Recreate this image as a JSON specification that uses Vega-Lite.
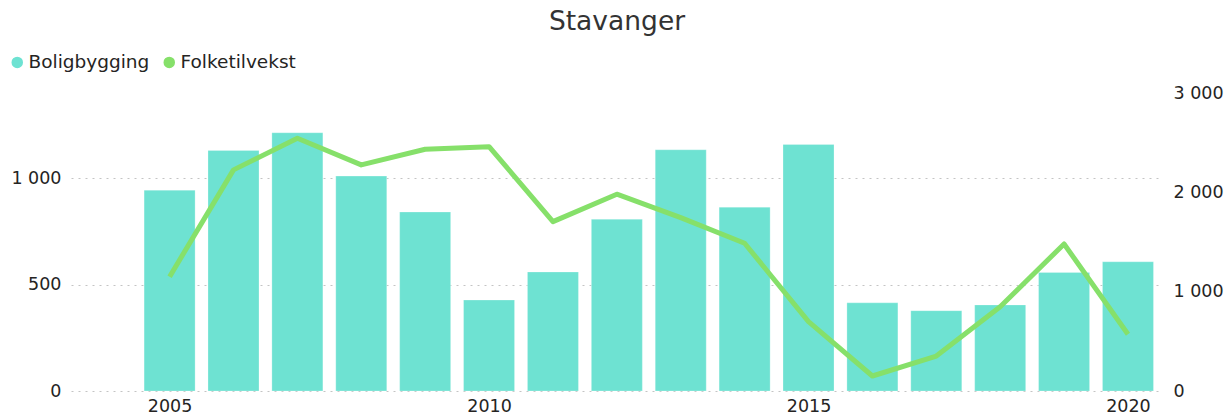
{
  "$schema": "https://vega.github.io/schema/vega-lite/v6.json",
  "width": 1092,
  "height": 298,
  "autosize": {"type": "none"},
  "padding": {"left": 71, "top": 93, "right": 64, "bottom": 28},
  "background": "white",
  "title": {"text": "Stavanger", "fontSize": 26.5, "font": "DejaVu Sans", "fontWeight": "normal", "color": "#333333", "anchor": "middle", "offset": 18},
  "config": {
    "view": {"stroke": null},
    "font": "DejaVu Sans",
    "axis": {"labelFont": "DejaVu Sans", "labelFontSize": 17.5, "labelColor": "#252423", "domain": false, "ticks": false, "title": null},
    "legend": {"labelFont": "DejaVu Sans"}
  },
  "data": {"values": [
    {"year": 2005, "Boligbygging": 945, "Folketilvekst": 1151},
    {"year": 2006, "Boligbygging": 1132, "Folketilvekst": 2226},
    {"year": 2007, "Boligbygging": 1215, "Folketilvekst": 2545},
    {"year": 2008, "Boligbygging": 1011, "Folketilvekst": 2276},
    {"year": 2009, "Boligbygging": 842, "Folketilvekst": 2434},
    {"year": 2010, "Boligbygging": 428, "Folketilvekst": 2460},
    {"year": 2011, "Boligbygging": 560, "Folketilvekst": 1705},
    {"year": 2012, "Boligbygging": 808, "Folketilvekst": 1981},
    {"year": 2013, "Boligbygging": 1135, "Folketilvekst": 1745},
    {"year": 2014, "Boligbygging": 865, "Folketilvekst": 1487},
    {"year": 2015, "Boligbygging": 1160, "Folketilvekst": 698},
    {"year": 2016, "Boligbygging": 415, "Folketilvekst": 151},
    {"year": 2017, "Boligbygging": 378, "Folketilvekst": 352},
    {"year": 2018, "Boligbygging": 405, "Folketilvekst": 849},
    {"year": 2019, "Boligbygging": 558, "Folketilvekst": 1480},
    {"year": 2020, "Boligbygging": 608, "Folketilvekst": 571}
  ]},
  "encoding": {
    "x": {"field": "year", "type": "quantitative", "scale": {"domain": [2003.535, 2020.47], "nice": false, "zero": false},
      "axis": {"values": [2005, 2010, 2015, 2020], "format": "d", "grid": false, "labelPadding": 6}}
  },
  "layer": [
    {
      "mark": {"type": "bar", "size": 51, "stroke": "#ffffff", "strokeOpacity": 0.25, "strokeWidth": 1},
      "encoding": {
        "y": {"field": "Boligbygging", "type": "quantitative", "scale": {"domain": [0, 1402], "nice": false},
          "axis": {"orient": "left", "values": [0, 500, 1000], "labelExpr": "replace(format(datum.value, ','), ',', ' ')", "grid": true, "gridDash": [2, 5], "gridColor": "#c4c4c4", "gridWidth": 1, "labelPadding": 10}},
        "color": {"datum": "Boligbygging", "type": "nominal",
          "scale": {"domain": ["Boligbygging", "Folketilvekst"], "range": ["#6ee2d2", "#86e06a"]},
          "legend": {"orient": "none", "legendX": -63, "legendY": -40, "direction": "horizontal", "title": null, "symbolType": "circle", "symbolSize": 100, "labelFontSize": 18.5, "labelColor": "#252423", "columnPadding": 10, "labelOffset": 2,
            "encode": {"symbols": {"update": {"fill": {"scale": "color", "field": "value"}, "strokeWidth": {"value": 0}, "opacity": {"value": 1}}}}}
        }
      }
    },
    {
      "mark": {"type": "line", "strokeWidth": 5, "strokeJoin": "round", "strokeCap": "butt"},
      "encoding": {
        "y": {"field": "Folketilvekst", "type": "quantitative", "scale": {"domain": [0, 3000], "nice": false},
          "axis": {"orient": "right", "values": [0, 1000, 2000, 3000], "labelExpr": "replace(format(datum.value, ','), ',', ' ')", "grid": false, "labelPadding": 10}},
        "color": {"datum": "Folketilvekst", "type": "nominal"}
      }
    }
  ],
  "resolve": {"scale": {"y": "independent"}}
}
